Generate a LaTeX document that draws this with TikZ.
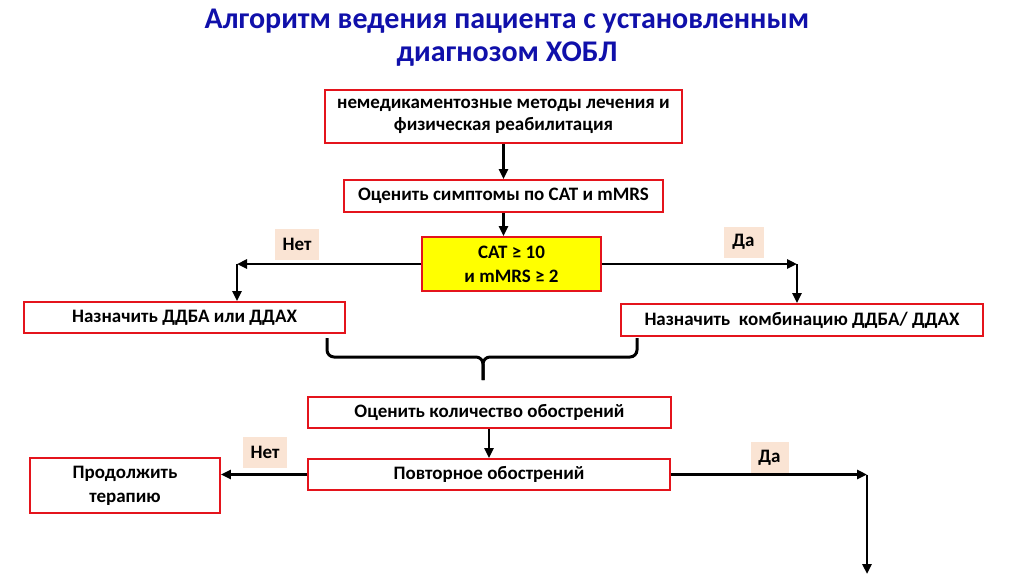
\documentclass[tikz,border=0pt]{standalone}
\usepackage{fontspec}
\setmainfont{Carlito}
\usetikzlibrary{arrows.meta}
\definecolor{titleblue}{RGB}{16,16,170}
\definecolor{boxred}{RGB}{228,20,28}
\definecolor{peach}{RGB}{250,228,212}
\definecolor{yel}{RGB}{255,255,0}
\begin{document}
\begin{tikzpicture}[x=1pt,y=-1pt,
  box/.style={draw=boxred, line width=1.8pt, fill=white, inner sep=0pt, align=center,
    font=\fontsize{19}{24}\selectfont\bfseries},
  lbl/.style={fill=peach, inner sep=0pt, minimum width=44pt, minimum height=31pt,
    font=\fontsize{19}{22}\selectfont\bfseries},
  arr/.style={line width=2.6pt, -{Triangle[length=10pt,width=9pt]}},
  bracestyle/.style={line width=3pt, rounded corners=7pt}]
\useasboundingbox (0,0) rectangle (1024,574);
% title
\node[font=\fontsize{30}{33}\selectfont\bfseries, text=titleblue, align=center] (title) at (507,38)
  {Алгоритм ведения пациента с установленным\\диагнозом ХОБЛ};
% boxes
\node[box, minimum width=357pt, minimum height=53pt] (b1) at (503.5,116.5)
  {\raisebox{-2pt}{немедикаментозные методы лечения и}\\физическая реабилитация};
\node[box, minimum width=319pt, minimum height=32pt] (b2) at (503.5,196)
  {\raisebox{-2pt}{Оценить симптомы по CAT и mMRS}};
\node[box, fill=yel, minimum width=179pt, minimum height=54pt] (b3) at (511.5,264)
  {CAT ≥ 10\\ и mMRS ≥ 2};
\node[box, minimum width=321pt, minimum height=31pt] (b4) at (184.5,317.5)
  {\raisebox{-2pt}{Назначить ДДБА или ДДАХ}};
\node[box, minimum width=362pt, minimum height=32pt] (b5) at (802,320)
  {\raisebox{-2pt}{Назначить\ \ комбинацию ДДБА/ ДДАХ}};
\node[box, minimum width=363pt, minimum height=31pt] (b6) at (489.5,412.5)
  {\raisebox{-2pt}{Оценить количество обострений}};
\node[box, minimum width=362pt, minimum height=31pt] (b7) at (489,474.5)
  {\raisebox{-2pt}{Повторное обострений}};
\node[box, minimum width=190pt, minimum height=55pt] (b8) at (125,485.5)
  {Продолжить\\терапию};
% labels
\node[lbl] (l1) at (297,244) {Нет};
\node[lbl, minimum width=40pt] (l2) at (743.5,242) {Да};
\node[lbl] (l3) at (265,452.5) {Нет};
\node[lbl, minimum width=38pt] (l4) at (769.5,457.5) {Да};
% connectors
\coordinate (cl) at (237,264);
\coordinate (cr) at (797,264);
\coordinate (cd) at (867,474.5);
\coordinate (cbot) at (867,574);
\draw[arr] (b1.south) -- (b2.north);
\draw[arr] (b2.south) -- (b2.south |- b3.north);
\draw[arr] (b3.west) -- (cl);
\draw[arr] (cl) -- (cl |- b4.north);
\draw[arr] (b3.east) -- (cr);
\draw[arr] (cr) -- (cr |- b5.north);
\draw[arr] (b6.south -| b7.north) -- (b7.north);
\draw[arr] (b7.west) -- (b7.west -| b8.east);
\draw[arr] (b7.east) -- (cd);
\draw[arr] (cd) -- (cbot);
% brace
\coordinate (br1) at (327,338);
\coordinate (br2) at (637,338);
\coordinate (brm) at (483,357);
\coordinate (brt) at (483,380);
\draw[bracestyle] (br1) |- (brm) -- (brt);
\draw[bracestyle] (br2) |- (brm) -- (brt);
\end{tikzpicture}
\end{document}
